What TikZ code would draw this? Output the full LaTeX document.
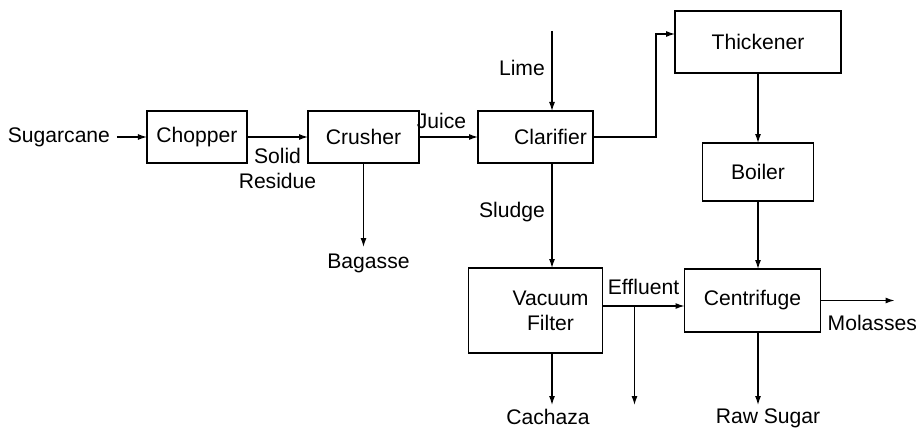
\documentclass[tikz,border=0pt]{standalone}
\usepackage{fontspec}
\setmainfont{Liberation Sans}
\usepackage{tikz}
\usetikzlibrary{positioning,arrows.meta,calc}
\tikzset{
  box/.style={draw=black, line width=0.6pt, minimum height=26bp, inner sep=3.3bp, outer sep=0pt},
  edge/.style={-{Latex[length=4.5bp,width=3bp]}, line width=0.6pt},
  shifted/.style={xshift=7.5bp, align=center},
}

\begin{document}
\begin{tikzpicture}[font=\fontsize{10.6}{12.6}\selectfont, inner sep=3.3bp]
  \useasboundingbox (-98.5bp,68.5bp) rectangle (361bp,-146.5bp);
  \node[box, minimum width=50bp] (chop) at (0,0) {Chopper};
  \node[left=15bp of chop] (cane) {Sugarcane};
  \node[box, minimum width=55.5bp, right=30.5bp of chop] (crush) {Crusher};
  \node[box, minimum width=57.5bp, right=29.5bp of crush, label={[shifted]center:Clarifier}] (clar) {};
  \node[box, minimum width=83bp, minimum height=31bp, above right=19bp and 41bp of clar] (thk) {Thickener};
  \node[box, minimum width=55.5bp, minimum height=29bp, below=35bp of thk] (boil) {Boiler};
  \node[box, minimum width=67bp, minimum height=42.5bp, below=52.5bp of clar, label={[shifted]center:{Vacuum\\Filter}}] (vf) {};
  \node[box, minimum width=68bp, minimum height=31.5bp, below=34bp of boil, xshift=-2.75bp] (cent) {Centrifuge};
  \node[below=42bp of crush.south, xshift=2.5bp] (bag) {Bagasse};
  \coordinate (ax) at ([xshift=8.25bp]clar.north);
  \coordinate (limetop) at ([yshift=40bp]ax);
  \coordinate (tap) at ([xshift=16bp, yshift=2.25bp]vf.east);
  \coordinate (cachend) at ([yshift=-26bp]vf.south -| ax);
  \coordinate (tapend) at (tap |- cachend);
  \coordinate (sugend) at ([yshift=-36.5bp]cent.south -| boil.south);
  \coordinate (molend) at ([xshift=37bp]cent.east);
  \node[below, yshift=1.5bp, xshift=-2bp] (cach) at (cachend) {Cachaza};
  \node[below, xshift=5bp, yshift=1.5bp] (raw) at (sugend) {Raw Sugar};

  \draw[edge] (cane) -- (chop);
  \draw[edge] (chop) -- (crush) node[midway, below, align=center, yshift=-2bp] (solid) {Solid\\Residue};
  \draw[edge] (crush) -- (clar) node[pos=0.38, above, yshift=0.5bp] (juice) {Juice};
  \draw[edge] (crush.south) -- (crush.south |- bag.north);
  \draw[edge] (limetop) -- (ax) node[pos=0.46, left] (lime) {Lime};
  \draw[edge] (clar.east) -- ++(31.5bp,0) |- ([yshift=4bp]thk.west);
  \draw[edge] (thk) -- (boil);
  \draw[edge] (clar.south -| ax) -- (vf.north -| ax) node[pos=0.47, left] (sludge) {Sludge};
  \draw[edge] ([yshift=2.25bp]vf.east) -- ([yshift=2.25bp]vf.east -| cent.west) node[midway, above, yshift=2bp] (eff) {Effluent};
  \draw[edge] (tap) -- (tapend);
  \draw[edge] (vf.south -| ax) -- (cachend);
  \draw[edge] (boil.south) -- (boil.south |- cent.north);
  \draw[edge] (boil.south |- cent.south) -- (sugend);
  \draw[edge] (cent.east) -- (molend) node[pos=0, anchor=north west, yshift=-3.5bp] (mol) {Molasses};
\end{tikzpicture}
\end{document}
